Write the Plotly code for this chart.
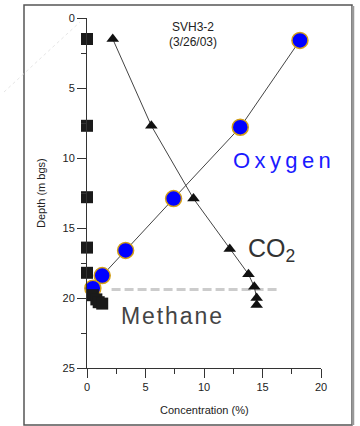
import plotly.graph_objects as go

# Data (concentration %, depth m bgs)
methane_conc = [0.0, 0.0, 0.0, 0.0, 0.0, 0.5, 0.8, 1.0, 1.3]
methane_depth = [1.5, 7.7, 12.8, 16.4, 18.2, 19.8, 20.1, 20.3, 20.4]

oxygen_conc = [18.2, 13.1, 7.4, 3.3, 1.3, 0.5]
oxygen_depth = [1.6, 7.8, 12.9, 16.6, 18.4, 19.3]

co2_conc = [2.2, 5.5, 9.1, 12.2, 13.8, 14.3, 14.5, 14.5]
co2_depth = [1.5, 7.7, 12.9, 16.5, 18.3, 19.2, 20.0, 20.5]

water_conc = [2.1, 16.3]
water_depth = [19.4, 19.4]

x_ticks = [0, 5, 10, 15, 20]
y_ticks = [0, 5, 10, 15, 20, 25]

FONT = "Liberation Sans, Arial, sans-serif"
TS = "\u2009"
HS = "\u200a"

fig = go.Figure()

fig.add_trace(go.Scatter(
    x=water_conc, y=water_depth, mode="lines",
    line=dict(color="#cccccc", width=3, dash="9px,4px"),
    hoverinfo="skip", cliponaxis=False))

fig.add_trace(go.Scatter(
    x=co2_conc, y=co2_depth, mode="lines+markers",
    line=dict(color="#444444", width=1),
    marker=dict(symbol="triangle-up", size=11, color="#111111"),
    cliponaxis=False))

fig.add_trace(go.Scatter(
    x=oxygen_conc, y=oxygen_depth, mode="lines+markers",
    line=dict(color="#444444", width=1),
    marker=dict(symbol="circle", size=16, color="#0000ff",
                line=dict(color="#d4a017", width=1.5)),
    cliponaxis=False))

fig.add_trace(go.Scatter(
    x=methane_conc, y=methane_depth, mode="markers",
    marker=dict(symbol="square", size=12, color="#1a1a1a"),
    cliponaxis=False))

axis_common = dict(
    showline=True, linecolor="#333333", linewidth=1,
    ticks="outside", ticklen=9, tickcolor="#333333", tickwidth=1,
    showgrid=False, zeroline=False,
    tickfont=dict(family=FONT, size=11, color="#222222"),
)

fig.update_xaxes(range=[0, 20], tickvals=x_ticks,
                 minor=dict(ticks="outside", ticklen=5, dtick=2.5, tick0=0, tickcolor="#333333"),
                 **axis_common)
fig.update_yaxes(range=[25, 0], tickvals=y_ticks,
                 minor=dict(ticks="outside", ticklen=5, dtick=2.5, tick0=0, tickcolor="#333333"),
                 **axis_common)

def px_x(px):
    return (px - 87) / 234.0

def px_y(py):
    return (368 - py) / 350.0

shapes = [
    dict(type="rect", xref="paper", yref="paper",
         x0=px_x(24), x1=px_x(352), y0=px_y(425), y1=px_y(5),
         line=dict(color="#555555", width=1.5)),
    dict(type="line", xref="paper", yref="paper",
         x0=px_x(353), x1=px_x(353), y0=px_y(425), y1=px_y(6),
         line=dict(color="#999999", width=2.5)),
    dict(type="line", xref="paper", yref="paper",
         x0=px_x(4), x1=px_x(80), y0=px_y(92), y1=px_y(22),
         line=dict(color="#e6e6e6", width=1, dash="dot")),
]

def ann(text, x, y, size, color, xanchor="center", **kw):
    return dict(text=text, x=px_x(x), y=px_y(y), xref="paper", yref="paper",
                xanchor=xanchor, yanchor="middle", showarrow=False,
                font=dict(family=FONT, size=size, color=color), **kw)

annotations = [
    ann("SVH3-2", 193, 27, 12, "#222222"),
    ann("(3/26/03)", 193, 42, 12, "#222222"),
    ann(TS.join("Oxygen"), 231, 160, 22, "#1a1aff", xanchor="left"),
    ann("CO<sub>2</sub>", 246, 250, 25, "#333333", xanchor="left"),
    ann(HS.join("Methane"), 119, 316, 23, "#444444", xanchor="left"),
    ann("Depth (m bgs)", 41, 193, 11, "#222222", textangle=-90),
    ann("Concentration (%)", 204, 410, 11, "#222222"),
]

fig.update_layout(
    width=360, height=426,
    margin=dict(l=87, r=39, t=18, b=58),
    paper_bgcolor="white", plot_bgcolor="white",
    showlegend=False,
    shapes=shapes, annotations=annotations,
)

fig.write_html("out.html")
